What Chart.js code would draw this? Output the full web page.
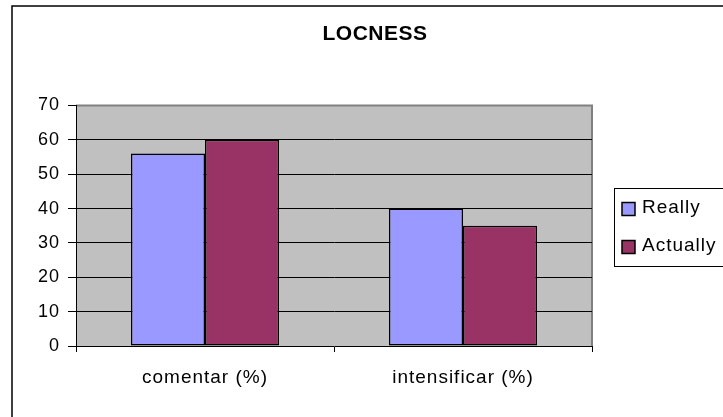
<!DOCTYPE html>
<html>
<head>
<meta charset="utf-8">
<script src="https://cdn.jsdelivr.net/npm/chart.js@4"></script>
<style>
html,body{margin:0;padding:0;background:#fff;}
#wrap{width:723px;height:417px;position:relative;}
</style>
</head>
<body>
<div id="wrap"><canvas id="c" width="723" height="417"></canvas></div>
<script>
const chartTitle = "LOCNESS";
const categories = ["comentar (%)", "intensificar (%)"];
const seriesNames = ["Really", "Actually"];
const reallyValues = [56, 40];
const actuallyValues = [60, 35];
const seriesColors = ["#9999FF", "#993366"];
const yMin = 0, yMax = 70, yStep = 10;

const FONT = "'Liberation Sans', Arial, sans-serif";

const decor = {
  id: 'decor',
  beforeDraw(chart) {
    const ctx = chart.ctx;
    const a = chart.chartArea;
    ctx.save();
    ctx.fillStyle = '#ffffff';
    ctx.fillRect(0, 0, chart.width, chart.height);
    // outer chart border
    ctx.strokeStyle = '#000000';
    ctx.lineWidth = 1.5;
    ctx.strokeRect(12, 6, 800, 500);
    // plot area
    ctx.fillStyle = '#C0C0C0';
    ctx.fillRect(a.left, a.top, a.right - a.left, a.bottom - a.top);
    ctx.strokeStyle = '#808080';
    ctx.lineWidth = 2;
    ctx.beginPath();
    ctx.moveTo(a.left, a.top);
    ctx.lineTo(a.right, a.top);
    ctx.lineTo(a.right, a.bottom);
    ctx.stroke();
    ctx.restore();
    ctx.letterSpacing = '1px';
  },
  afterDraw(chart) {
    const ctx = chart.ctx;
    ctx.save();
    // title
    ctx.fillStyle = '#000';
    ctx.letterSpacing = '0.5px';
    ctx.font = "bold 21px " + FONT;
    ctx.textAlign = 'center';
    ctx.textBaseline = 'middle';
    ctx.fillText(chartTitle, 375, 34);
    // legend
    ctx.letterSpacing = '1px';
    ctx.strokeStyle = '#000';
    ctx.lineWidth = 1;
    ctx.strokeRect(614.5, 188.5, 200, 78);
    ctx.font = "19px " + FONT;
    ctx.textAlign = 'left';
    const ys = [209, 247];
    chart.data.datasets.forEach((ds, i) => {
      ctx.fillStyle = ds.backgroundColor;
      ctx.fillRect(622, ys[i] - 6.5, 13, 13);
      ctx.lineWidth = 1.5;
      ctx.strokeRect(622, ys[i] - 6.5, 13, 13);
      ctx.fillStyle = '#000';
      ctx.fillText(ds.label, 642, ys[i] - 1);
    });
    ctx.restore();
  }
};

new Chart(document.getElementById('c'), {
  type: 'bar',
  data: {
    labels: categories,
    datasets: [
      { label: seriesNames[0], data: reallyValues, backgroundColor: seriesColors[0], borderColor: '#000', borderWidth: 1.5, borderSkipped: false },
      { label: seriesNames[1], data: actuallyValues, backgroundColor: seriesColors[1], borderColor: '#000', borderWidth: 1.5, borderSkipped: false }
    ]
  },
  options: {
    responsive: false,
    animation: false,
    devicePixelRatio: 1,
    layout: { padding: { left: 0, right: 131, top: 105.5, bottom: 0 } },
    datasets: { bar: { barPercentage: 1.0, categoryPercentage: 0.574 } },
    plugins: { legend: { display: false }, title: { display: false }, tooltip: { enabled: false } },
    scales: {
      x: {
        afterFit(s) { s.height = 71; },
        grid: { offset: true, drawOnChartArea: false, tickLength: 6, tickColor: '#000', tickWidth: 1 },
        border: { display: true, color: '#000', width: 1 },
        ticks: { color: '#000', font: { family: FONT, size: 19 }, padding: 14 }
      },
      y: {
        min: yMin, max: yMax,
        afterFit(s) { s.width = 76; },
        grid: {
          color: (c) => (c.tick && (c.tick.value === yMin || c.tick.value === yMax)) ? 'rgba(0,0,0,0)' : '#000',
          lineWidth: 1, tickLength: 8, tickColor: '#000', tickWidth: 1
        },
        border: { display: true, color: '#000', width: 1 },
        ticks: { stepSize: yStep, color: '#000', font: { family: FONT, size: 18 }, padding: 8 }
      }
    }
  },
  plugins: [decor]
});
</script>
</body>
</html>
